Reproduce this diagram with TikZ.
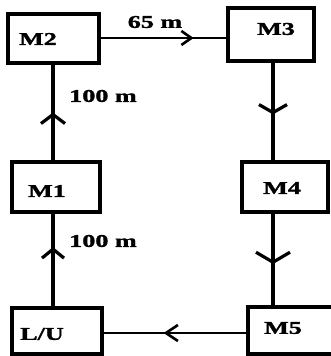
\documentclass[tikz,border=0pt]{standalone}
\usepackage{fontspec}
\usepackage{graphicx}
\setmainfont{Liberation Serif}
\newfontfamily\heavyserif[FakeBold=1.2]{Liberation Serif Bold}
\usetikzlibrary{arrows.meta,decorations.markings}
\newcommand\wtext[1]{\scalebox{1.45}[1]{\heavyserif #1}}
\tikzset{
  stationbox/.style={draw, line width=3.3pt, inner sep=0pt},
  tag/.style={inner sep=0pt, font=\fontsize{18}{20}\selectfont},
  link/.style={line width=3.2pt},
  midarrow/.style n args={3}{postaction={decorate}, decoration={markings,
      mark=at position #1 with {\arrow{Straight Barb[length=#2, width=#3]}}}}
}
\begin{document}
\begin{tikzpicture}[x=1pt, y=-1pt]
\useasboundingbox (0,0) rectangle (330,356);
% stations
\node[stationbox, minimum width=91pt, minimum height=49pt] (M2) at (53.5,38.5) {};
\node[stationbox, minimum width=86pt, minimum height=53pt] (M3) at (271,34.5) {};
\node[stationbox, minimum width=88pt, minimum height=50pt] (M1) at (56,187) {};
\node[stationbox, minimum width=86pt, minimum height=50pt] (M4) at (285,187) {};
\node[stationbox, minimum width=90pt, minimum height=46pt] (LU) at (57,331) {};
\node[stationbox, minimum width=90pt, minimum height=47pt] (M5) at (293,330.5) {};
% station names
\node[tag] (tM2) at (38,39) {\wtext{M2}};
\node[tag] (tM3) at (276,29) {\wtext{M3}};
\node[tag] (tM1) at (47,191) {\wtext{M1}};
\node[tag] (tM4) at (282,188) {\wtext{M4}};
\node[tag] (tLU) at (42,334) {\wtext{L/U}};
\node[tag] (tM5) at (283,328) {\wtext{M5}};
% distances
\node[tag] (d1) at (155,22) {\wtext{65 m}};
\node[tag] (d2) at (103,96) {\wtext{100 m}};
\node[tag] (d3) at (103,241) {\wtext{100 m}};
% route
\coordinate (xl) at (53,0);
\coordinate (xr) at (273,0);
\draw[link, line width=2.6pt, midarrow={0.74}{10pt}{14pt}] (M2.east |- 0,38) -- (M3.west |- 0,38);
\draw[link, midarrow={0.53}{8pt}{28pt}] (xr |- M3.south) -- (xr |- M4.north);
\draw[link, midarrow={0.55}{10pt}{34pt}] (xr |- M4.south) -- (xr |- M5.north);
\draw[link, line width=2.6pt, midarrow={0.58}{12pt}{16pt}] (M5.west |- 0,333) -- (LU.east |- 0,333);
\draw[link, midarrow={0.64}{9pt}{22pt}] (xl |- LU.north) -- (xl |- M1.south);
\draw[link, midarrow={0.50}{9pt}{24pt}] (xl |- M1.north) -- (xl |- M2.south);
\end{tikzpicture}
\end{document}
